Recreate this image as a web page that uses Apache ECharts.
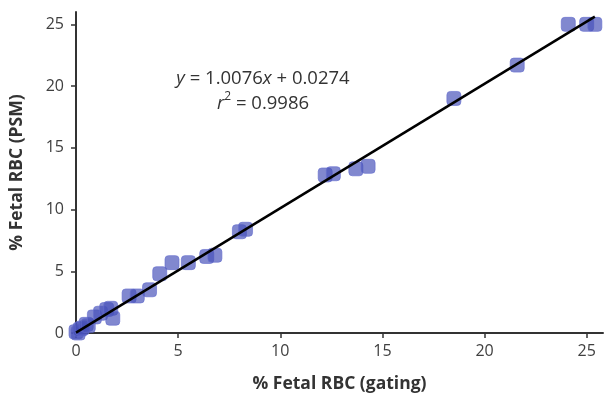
<!DOCTYPE html>
<html>
<head>
    <meta charset="utf-8">
    <script src="https://cdn.jsdelivr.net/npm/echarts@6/dist/echarts.min.js"></script>
</head>
<body style="margin:0">
<div id="main" style="width: 605px;height:401px;"></div>
<script type="text/javascript">
    // % fetal RBC: gating (x) vs PSM (y)
    var gating = [0, 0.1, 0.2, 0.3, 0.5, 0.6, 0.9, 1.2, 1.5, 1.7, 1.8, 2.6, 3.0, 3.6, 4.1, 4.7, 5.5, 6.4, 6.8, 8.0, 8.3, 12.2, 12.6, 13.7, 14.3, 18.5, 21.6, 24.1, 25.0, 25.4];
    var psm    = [0.1, 0.0, 0.3, 0.4, 0.7, 0.6, 1.3, 1.6, 1.9, 2.0, 1.2, 3.0, 3.0, 3.5, 4.8, 5.7, 5.7, 6.2, 6.3, 8.2, 8.4, 12.8, 12.9, 13.3, 13.5, 19.0, 21.7, 25.0, 25.0, 25.0];
    // fitted line endpoints
    var fitX = [0, 25.4];
    var fitY = [0.03, 25.62];

    var font = 'Open Sans';
    var axisColor = '#333';

    var points = gating.map(function (x, i) { return [x, psm[i]]; });
    var fit = fitX.map(function (x, i) { return [x, fitY[i]]; });

    var myChart = echarts.init(document.getElementById('main'));

    var option = {
        animation: false,
        grid: { left: 74, right: 2, top: 12, bottom: 68 },
        xAxis: {
            type: 'value', min: 0, max: 25.8, interval: 5,
            name: '% Fetal RBC (gating)', nameLocation: 'middle', nameGap: 42,
            nameTextStyle: { fontFamily: font, fontSize: 17.5, fontWeight: 'bold', color: '#333' },
            axisLine: { lineStyle: { color: axisColor, width: 2 } },
            axisTick: { length: 5, lineStyle: { color: axisColor, width: 1.5 } },
            axisLabel: {
                fontFamily: font, fontSize: 16, color: '#404040', margin: 10,
                showMaxLabel: false
            },
            splitLine: { show: false }
        },
        yAxis: {
            type: 'value', min: 0, max: 26, interval: 5,
            name: '% Fetal RBC (PSM)', nameLocation: 'middle', nameGap: 50,
            nameTextStyle: { fontFamily: font, fontSize: 17.5, fontWeight: 'bold', color: '#333' },
            axisLine: { show: true, lineStyle: { color: axisColor, width: 2 } },
            axisTick: { show: true, length: 5, lineStyle: { color: axisColor, width: 1.5 } },
            axisLabel: {
                fontFamily: font, fontSize: 16, color: '#404040', margin: 12,
                showMaxLabel: false
            },
            splitLine: { show: false }
        },
        graphic: [{
            type: 'text', silent: true,
            style: {
                x: 263, y: 66, textAlign: 'center',
                text: '{i|y} = 1.0076{i|x} + 0.0274\n{i|r}{s|2} = 0.9986',
                fontFamily: font, fontSize: 18.5, fill: '#333', lineHeight: 25,
                rich: {
                    i: { fontStyle: 'italic', fontFamily: font, fontSize: 18.5, fill: '#333' },
                    s: { fontSize: 12, fontFamily: font, fill: '#333', verticalAlign: 'top', padding: [0, 0, 8, 0] }
                }
            }
        }],
        series: [
            {
                type: 'scatter',
                data: points,
                symbol: 'roundRect',
                symbolSize: 14,
                itemStyle: { color: 'rgba(70, 80, 185, 0.85)', borderColor: 'rgba(100, 110, 205, 0.8)', borderWidth: 1 },
                z: 2
            },
            {
                type: 'line',
                data: fit,
                symbol: 'none',
                lineStyle: { color: '#000', width: 2.5 },
                z: 3
            }
        ]
    };

    myChart.setOption(option);
</script>
</body>
</html>
